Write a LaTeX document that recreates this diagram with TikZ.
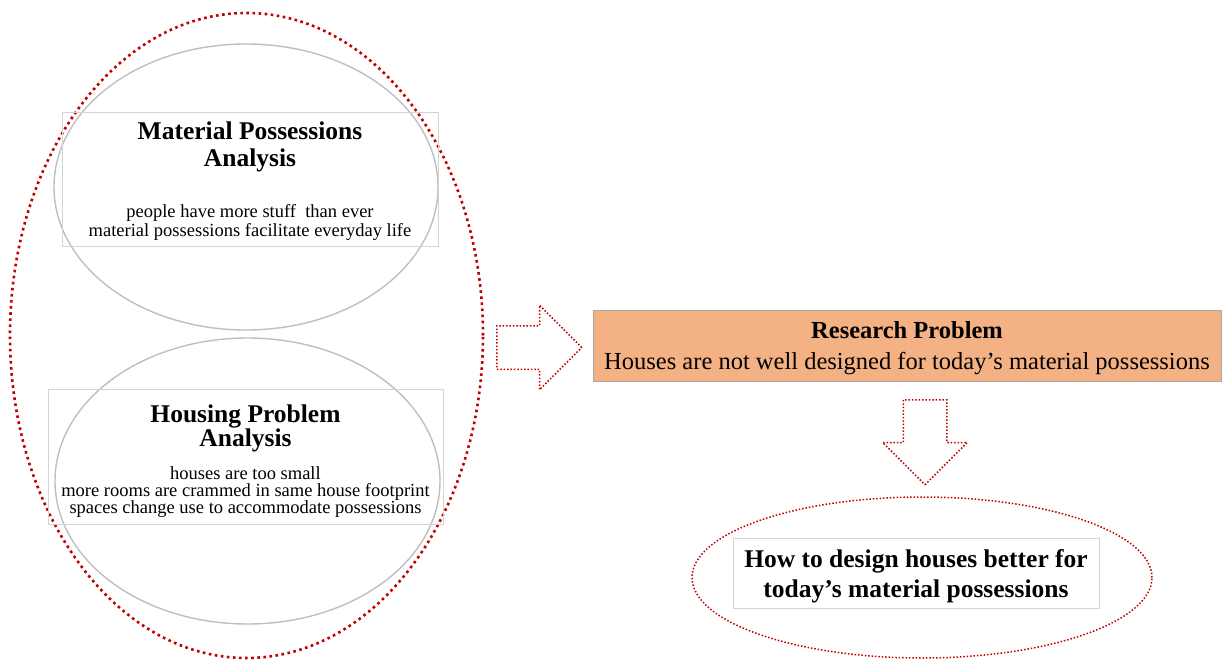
\documentclass[tikz,border=0pt]{standalone}
\usepackage{fontspec}
\setmainfont{Liberation Serif}
\usepackage{xcolor}
\usetikzlibrary{shapes.geometric, shapes.arrows, positioning}

\definecolor{dotred}{HTML}{C00000}
\definecolor{ringgray}{HTML}{BFBFBF}
\definecolor{boxgray}{HTML}{D4D4D4}
\definecolor{probfill}{HTML}{F4B183}
\definecolor{probline}{HTML}{B0A8A0}

\newcommand{\headfont}[1]{\fontsize{25.5}{#1}\selectfont\bfseries}
\newcommand{\notefont}[1]{\fontsize{18.5}{#1}\selectfont\lineskiplimit=-6pt}

\begin{document}
\begin{tikzpicture}[x=1pt, y=-1pt,
    redring/.style={ellipse, draw=dotred, inner sep=0pt},
    grayring/.style={ellipse, draw=ringgray, line width=1.4pt, inner sep=0pt},
    textbox/.style={rectangle, draw=boxgray, line width=0.9pt, align=center},
    plaintext/.style={align=center, inner sep=0pt},
    dotarrow/.style={single arrow, draw=dotred, line width=1.5pt, dash pattern=on 1.5pt off 1.9pt, inner sep=21pt, single arrow head extend=20.5pt}]
    \useasboundingbox (0,0) rectangle (1222,660);

    % Analysis rings
    \node (analysis) [redring, line width=2.6pt, dash pattern=on 2.6pt off 3.5pt, minimum width=473pt, minimum height=645pt] at (246.5,335.5) {};
    \node (matring) [grayring, minimum width=384pt, minimum height=286pt] at (246,187) {};
    \node (housering) [grayring, minimum width=385pt, minimum height=286pt] at (247.5,481) {};

    % Analysis boxes
    \node (matbox) [textbox, minimum width=376pt, minimum height=134pt] at (250,179) {};
    \node (mattitle) [plaintext, font={\headfont{27.5}}, below=10pt of matbox.north] {Material Possessions\\Analysis};
    \node (matnote) [plaintext, font={\notefont{19}}, above=5.3pt of matbox.south] {people have more stuff~ than ever\\material possessions facilitate everyday life};

    \node (housebox) [textbox, minimum width=395pt, minimum height=135pt] at (245.5,456.5) {};
    \node (housetitle) [plaintext, font={\headfont{21.5}}, below=16pt of housebox.north] {Housing Problem\\Analysis};
    \node (housenote) [plaintext, font={\notefont{17}}, above=6.7pt of housebox.south] {houses are too small\\more rooms are crammed in same house footprint\\spaces change use to accommodate possessions};

    % Research problem
    \node (toproblem) [dotarrow, minimum height=85pt, minimum width=83pt, anchor=tail] at (496,347.5) {};
    \node (problem) [rectangle, draw=probline, fill=probfill, line width=0.8pt, minimum width=628pt, minimum height=71pt, text height=53.7pt, align=center, font=\fontsize{24.5}{31}\selectfont] at (907,345.5) {{\bfseries Research Problem}\\Houses are not well designed for today’s material possessions};

    % Research question
    \node (toquestion) [dotarrow, shape border rotate=270, minimum height=85pt, minimum width=84pt, anchor=tail] at (925,399) {};
    \node (questionring) [redring, line width=1.5pt, dash pattern=on 1.5pt off 1.9pt, minimum width=460pt, minimum height=161pt] at (922,577.5) {};
    \node (question) [textbox, minimum width=366pt, minimum height=70pt, text height=55.4pt, font={\headfont{30}}] at (916,573) {How to design houses better for\\today’s material possessions};

\end{tikzpicture}
\end{document}
